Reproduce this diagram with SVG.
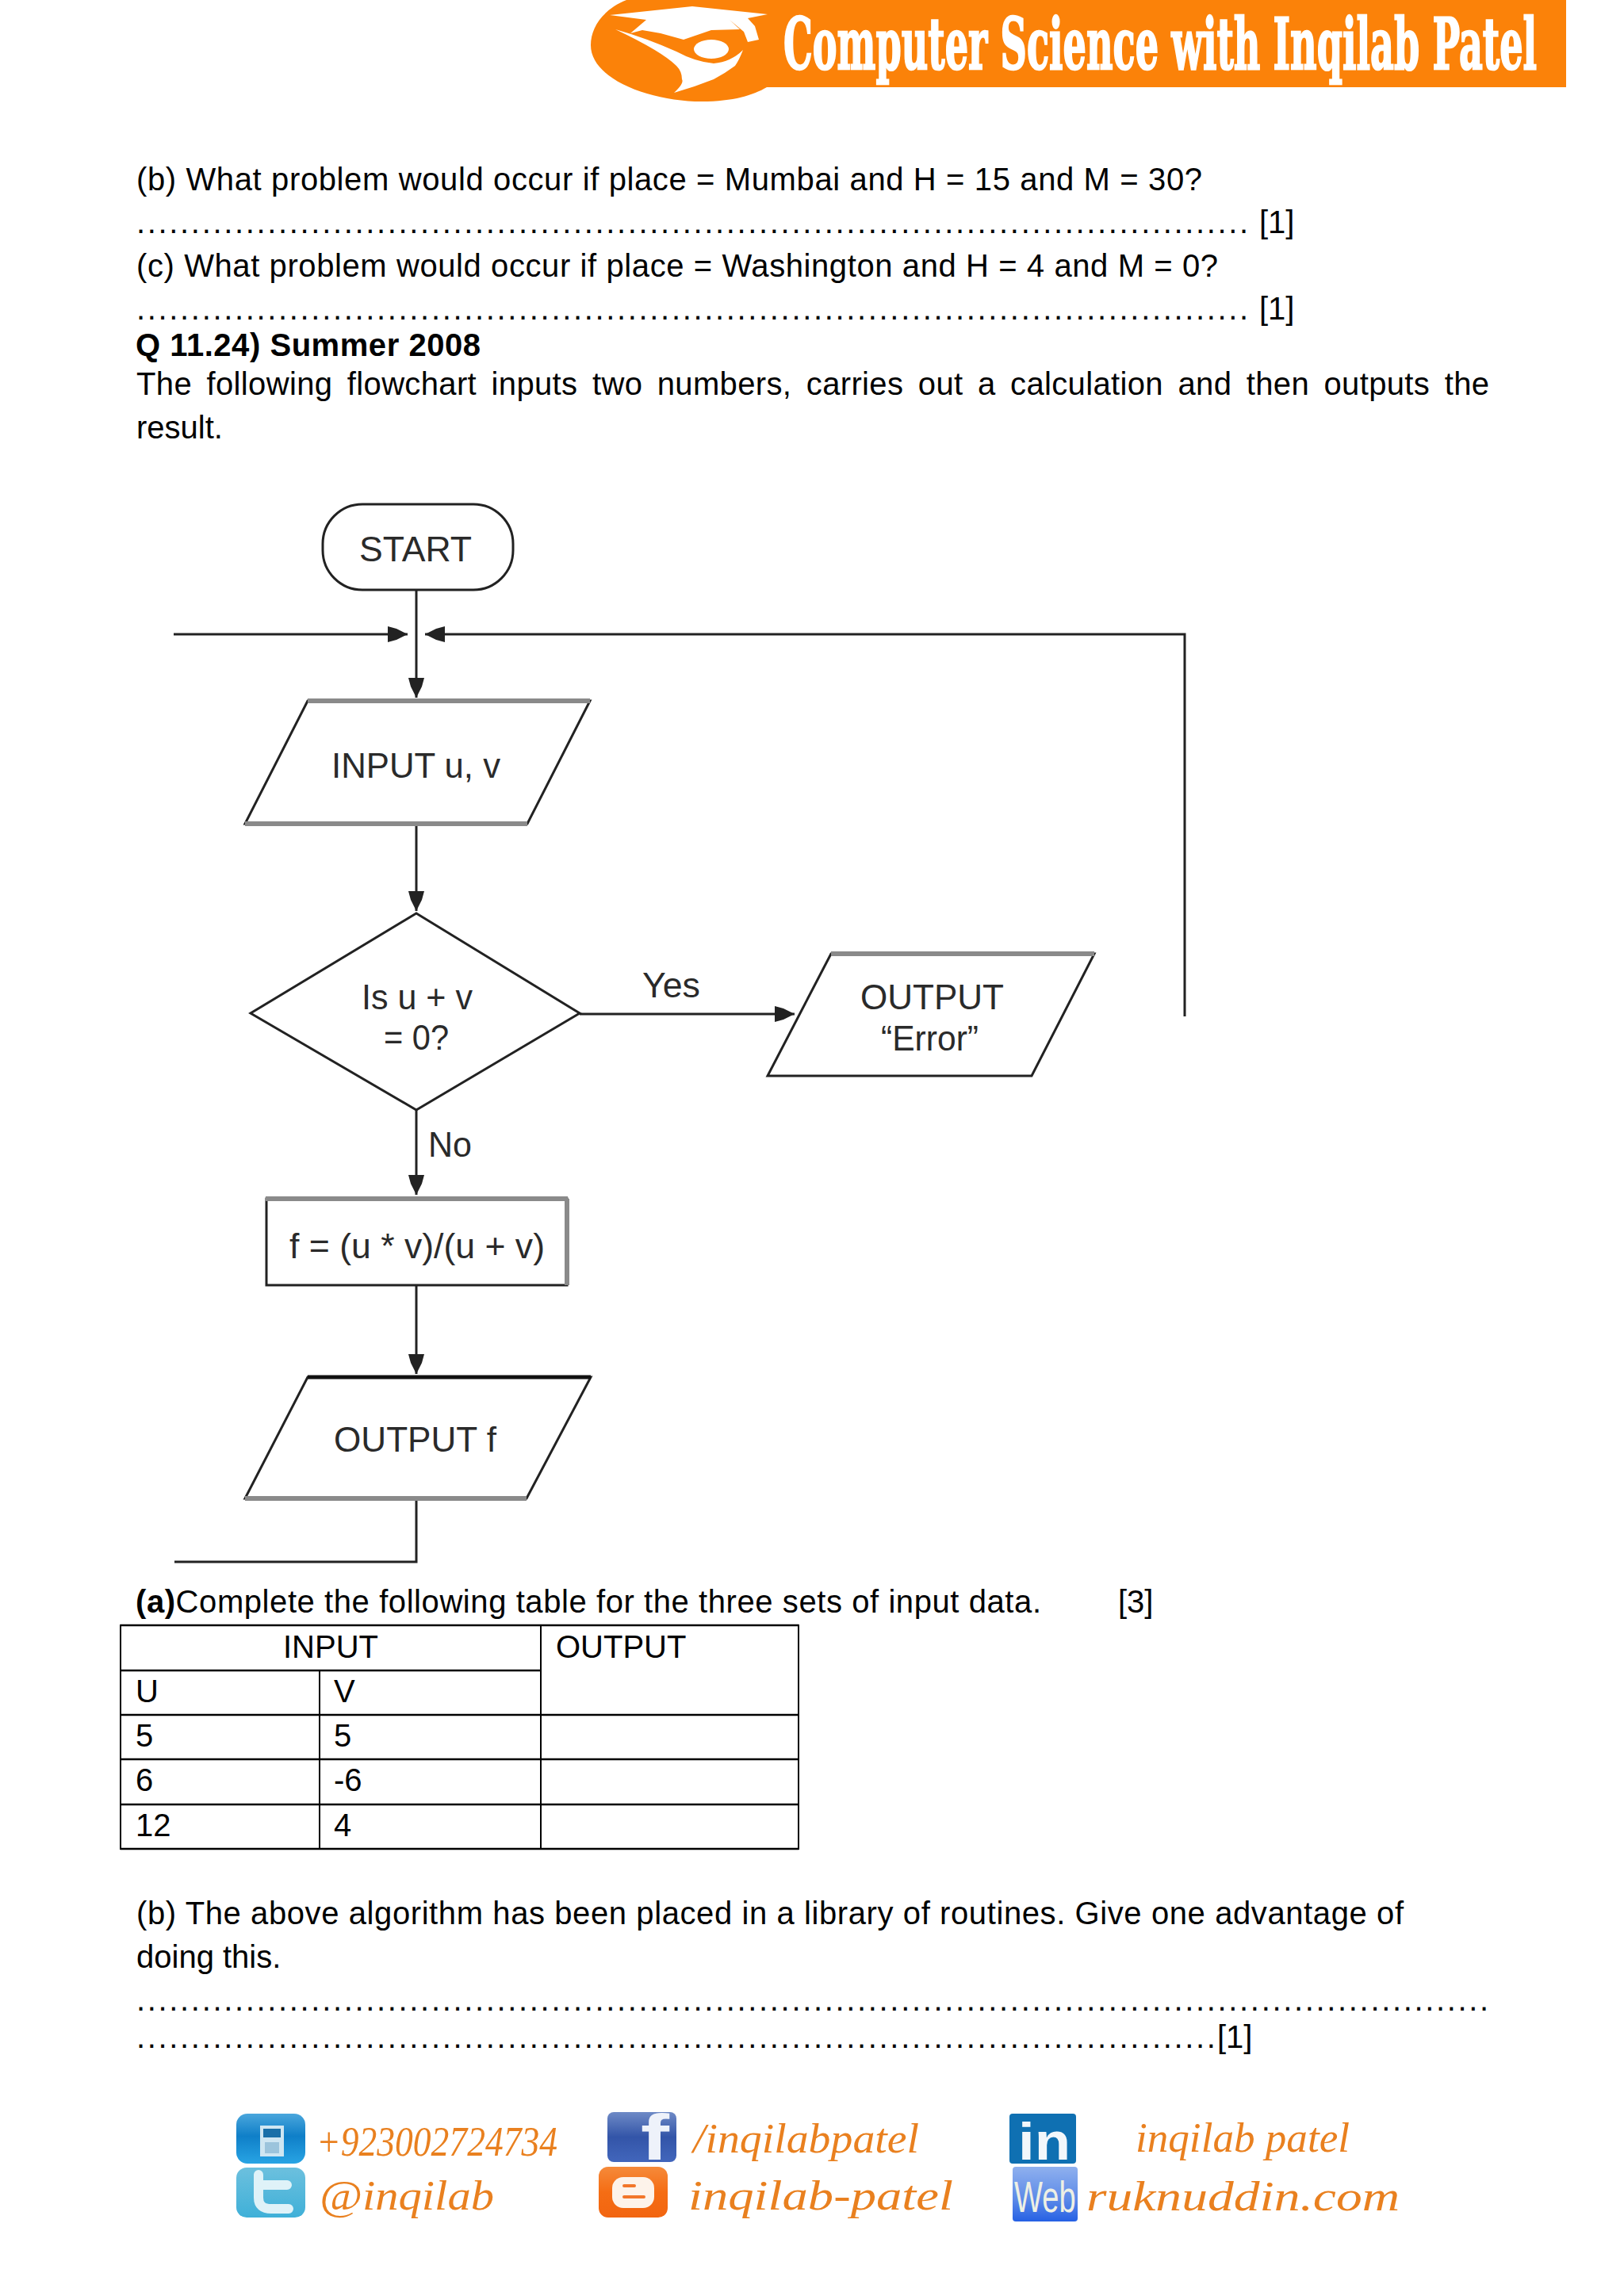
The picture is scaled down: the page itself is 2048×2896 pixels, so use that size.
<svg xmlns="http://www.w3.org/2000/svg" width="2048" height="2896" viewBox="0 0 2048 2896">
<style>
.t{font-family:"Liberation Sans",Arial,sans-serif;font-size:40px;fill:#000}
.b{font-weight:700}
.d{letter-spacing:2.66px}
.fc{font-family:"Liberation Sans",Arial,sans-serif;font-size:44px;fill:#2a2a2a}
.foot{font-family:"Liberation Serif","DejaVu Serif",serif;font-style:italic;font-size:52px;fill:#e9801f}
.s{fill:#fff;stroke:#222;stroke-width:3}
.top{stroke:#8a8a8a;stroke-width:6;fill:none}
.c{fill:none;stroke:#222;stroke-width:3}
.g{fill:none;stroke:#000;stroke-width:2}
.g2{fill:none;stroke:#000;stroke-width:2.6}
</style>
<defs>
<marker id="ah" markerUnits="userSpaceOnUse" markerWidth="28" markerHeight="22" refX="25" refY="10" orient="auto"><path d="M0 0L11 3L25 10L11 17L0 20Z" fill="#222"/></marker>
<linearGradient id="phone" x1="0" y1="0" x2="0" y2="1"><stop offset="0" stop-color="#4aa6dc"/><stop offset=".45" stop-color="#0f7fc8"/><stop offset="1" stop-color="#28a4e4"/></linearGradient>
<linearGradient id="bird" x1="0" y1="0" x2="0" y2="1"><stop offset="0" stop-color="#6cc0de"/><stop offset="1" stop-color="#3fb0d8"/></linearGradient>
<linearGradient id="fbg" x1="0" y1="0" x2="0" y2="1"><stop offset="0" stop-color="#6e8ac6"/><stop offset=".5" stop-color="#3355a8"/><stop offset="1" stop-color="#4266bc"/></linearGradient>
<linearGradient id="blog" x1="0" y1="0" x2="0" y2="1"><stop offset="0" stop-color="#f58a3a"/><stop offset=".5" stop-color="#f56d14"/><stop offset="1" stop-color="#f26510"/></linearGradient>
<linearGradient id="web" x1="0" y1="0" x2="0" y2="1"><stop offset="0" stop-color="#8fb0ee"/><stop offset=".6" stop-color="#5c8ae8"/><stop offset="1" stop-color="#2560e4"/></linearGradient>
</defs>
<rect width="2048" height="2896" fill="#fff"/>

<g id="banner">
<path d="M790 0C760 12 745 35 745 57C745 100 820 128 885 128C925 128 950 120 967 110H1975V0Z" fill="#fb8209"/>
<path d="M769 19L873 8L968 18L943 23L952 33L957 50L943 53L938 40L920 25L933 37L897 38L862 50L833 42L810 38L795 42L815 25Z" fill="#fff"/>
<ellipse cx="897" cy="62" rx="22" ry="12" fill="#fff"/>
<path d="M776 37Q815 48 853 65Q877 78 900 80Q922 78 937 63Q932 76 927 83Q915 92 900 100Q875 110 850 117Q863 105 860 100Q860 90 853 83Q835 65 776 37Z" fill="#fff"/>
<text transform="translate(988 87) scale(.444 1)" x="0" y="0" textLength="2140" lengthAdjust="spacingAndGlyphs" style="font-family:'DejaVu Serif',serif;font-weight:700;font-size:90px;fill:#fff;stroke:#fff;stroke-width:2.5">Computer Science with Inqilab Patel</text>
</g>

<g id="text-top">
<text class="t" x="172" y="240" textLength="1344">(b) What problem would occur if place = Mumbai and H = 15 and M = 30?</text>
<text class="t" x="172" y="294"><tspan class="d">......................................................................................................</tspan><tspan x="1588">[1]</tspan></text>
<text class="t" x="172" y="349" textLength="1364">(c) What problem would occur if place = Washington and H = 4 and M = 0?</text>
<text class="t" x="172" y="403"><tspan class="d">......................................................................................................</tspan><tspan x="1588">[1]</tspan></text>
<text class="t b" x="171" y="449" textLength="435">Q 11.24) Summer 2008</text>
<text class="t" x="172" y="498" word-spacing="7" textLength="1706">The following flowchart inputs two numbers, carries out a calculation and then outputs the</text>
<text class="t" x="172" y="553">result.</text>
</g>

<g id="connectors">
<path class="c" d="M525 744V880" marker-end="url(#ah)"/>
<path class="c" d="M219 800H514" marker-end="url(#ah)"/>
<path class="c" d="M1494 1282V800H536" marker-end="url(#ah)"/>
<path class="c" d="M525 1039V1149" marker-end="url(#ah)"/>
<path class="c" d="M731 1279H1002" marker-end="url(#ah)"/>
<path class="c" d="M525 1400V1507" marker-end="url(#ah)"/>
<path class="c" d="M525 1621V1733" marker-end="url(#ah)"/>
<path class="c" d="M525 1890V1970H220"/>
</g>

<g id="start"><rect class="s" x="407" y="636" width="240" height="108" rx="50" ry="50"/><text class="fc" x="524" y="708" text-anchor="middle" textLength="142" lengthAdjust="spacingAndGlyphs">START</text></g>
<g id="input"><polygon class="s" points="388,884 744,884 665,1039 309,1039"/><path class="top" d="M388 884H744M309 1039H665"/><text class="fc" x="418" y="981" textLength="213" lengthAdjust="spacingAndGlyphs">INPUT u, v</text></g>
<g id="decision"><polygon class="s" points="525,1152 731,1278 525,1400 316,1278"/><text class="fc" x="456" y="1273" textLength="140" lengthAdjust="spacingAndGlyphs">Is u + v</text><text class="fc" x="484" y="1324" textLength="82" lengthAdjust="spacingAndGlyphs">= 0?</text></g>
<g id="label-yes"><text class="fc" x="810" y="1258" textLength="73" lengthAdjust="spacingAndGlyphs">Yes</text></g>
<g id="output-error"><polygon class="s" points="1048,1203 1380,1203 1301,1357 968,1357"/><path class="top" d="M1048 1203H1380"/><text class="fc" x="1085" y="1273" textLength="181" lengthAdjust="spacingAndGlyphs">OUTPUT</text><text class="fc" x="1111" y="1325" textLength="123" lengthAdjust="spacingAndGlyphs">“Error”</text></g>
<g id="label-no"><text class="fc" x="540" y="1459" textLength="55" lengthAdjust="spacingAndGlyphs">No</text></g>
<g id="process"><rect class="s" x="336" y="1512" width="379" height="109"/><path class="top" d="M335 1512H716M715 1512V1621"/><text class="fc" x="365" y="1587" textLength="322" lengthAdjust="spacingAndGlyphs">f = (u * v)/(u + v)</text></g>
<g id="output-f"><polygon class="s" points="388,1737 745,1737 664,1890 309,1890"/><path class="top" d="M309 1890H664"/><path d="M388 1737H745" stroke="#111" stroke-width="5"/><text class="fc" x="421" y="1831" textLength="205" lengthAdjust="spacingAndGlyphs">OUTPUT f</text></g>

<g id="text-a">
<text class="t" x="171" y="2034" textLength="1142"><tspan class="b">(a)</tspan>Complete the following table for the three sets of input data.</text>
<text class="t" x="1410" y="2034">[3]</text>
</g>

<g id="table">
<rect class="g" x="152" y="2050" width="855" height="282"/>
<path class="g2" d="M152 2050H1007M152 2107H682M152 2163H1007M152 2219H1007M152 2276H1007M152 2332H1007"/>
<path class="g" d="M682 2050V2332M403 2107V2332"/>
<text class="t" x="417" y="2091" text-anchor="middle">INPUT</text>
<text class="t" x="701" y="2091">OUTPUT</text>
<text class="t" x="171" y="2147">U</text><text class="t" x="421" y="2147">V</text>
<text class="t" x="171" y="2203">5</text><text class="t" x="421" y="2203">5</text>
<text class="t" x="171" y="2259">6</text><text class="t" x="421" y="2259">-6</text>
<text class="t" x="171" y="2316">12</text><text class="t" x="421" y="2316">4</text>
</g>

<g id="text-b">
<text class="t" x="172" y="2427" textLength="1598">(b) The above algorithm has been placed in a library of routines. Give one advantage of</text>
<text class="t" x="172" y="2482">doing this.</text>
<text class="t d" x="172" y="2536">............................................................................................................................</text>
<text class="t" x="172" y="2583"><tspan class="d">...................................................................................................</tspan><tspan x="1535">[1]</tspan></text>
</g>

<g id="footer">
<g id="phone-contact">
<rect x="298" y="2666" width="87" height="63" rx="14" fill="url(#phone)"/>
<path d="M328 2681H358V2720H328Z" fill="#cfe6f2"/><rect x="332" y="2685" width="22" height="11" fill="#1a6fa8"/><rect x="334" y="2702" width="18" height="14" fill="#9cc4dc"/>
<text class="foot" x="399" y="2719" textLength="304" lengthAdjust="spacingAndGlyphs">+923002724734</text>
</g>
<g id="twitter-contact">
<rect x="298" y="2734" width="87" height="63" rx="13" fill="url(#bird)"/>
<path d="M326 2743V2772Q326 2786 342 2786H364M326 2756H362" fill="none" stroke="#dff2f8" stroke-width="12" stroke-linecap="round"/>
<text class="foot" x="403" y="2787" textLength="220" lengthAdjust="spacingAndGlyphs">@inqilab</text>
</g>
<g id="facebook-contact">
<rect x="766" y="2664" width="87" height="63" rx="8" fill="url(#fbg)"/>
<text x="808" y="2724" style="font-family:'Liberation Sans',sans-serif;font-weight:700;font-size:82px;fill:#eef2fa" textLength="36" lengthAdjust="spacingAndGlyphs">f</text>
<text class="foot" x="874" y="2715" textLength="285" lengthAdjust="spacingAndGlyphs">/inqilabpatel</text>
</g>
<g id="blogger-contact">
<rect x="755" y="2733" width="87" height="64" rx="12" fill="url(#blog)"/>
<rect x="772" y="2746" width="53" height="39" rx="14" fill="#fdf3ea"/>
<path d="M787 2757H800M787 2771H812" stroke="#f2762a" stroke-width="4" stroke-linecap="round"/>
<text class="foot" x="868" y="2787" textLength="334" lengthAdjust="spacingAndGlyphs">inqilab-patel</text>
</g>
<g id="linkedin-contact">
<rect x="1273" y="2666" width="84" height="63" rx="4" fill="#0f70b2"/>
<text x="1284" y="2724" style="font-family:'Liberation Sans',sans-serif;font-weight:700;font-size:66px;fill:#f2f7fb" textLength="66" lengthAdjust="spacingAndGlyphs">in</text>
<text class="foot" x="1432" y="2714" textLength="270" lengthAdjust="spacingAndGlyphs">inqilab patel</text>
</g>
<g id="web-contact">
<rect x="1277" y="2733" width="82" height="69" rx="4" fill="url(#web)"/>
<text transform="translate(1279 2790) scale(.68 1)" x="0" y="0" style="font-family:'Liberation Sans',sans-serif;font-size:56px;fill:#eef0e4">Web</text>
<text class="foot" x="1370" y="2788" textLength="395" lengthAdjust="spacingAndGlyphs">ruknuddin.com</text>
</g>
</g>
</svg>
